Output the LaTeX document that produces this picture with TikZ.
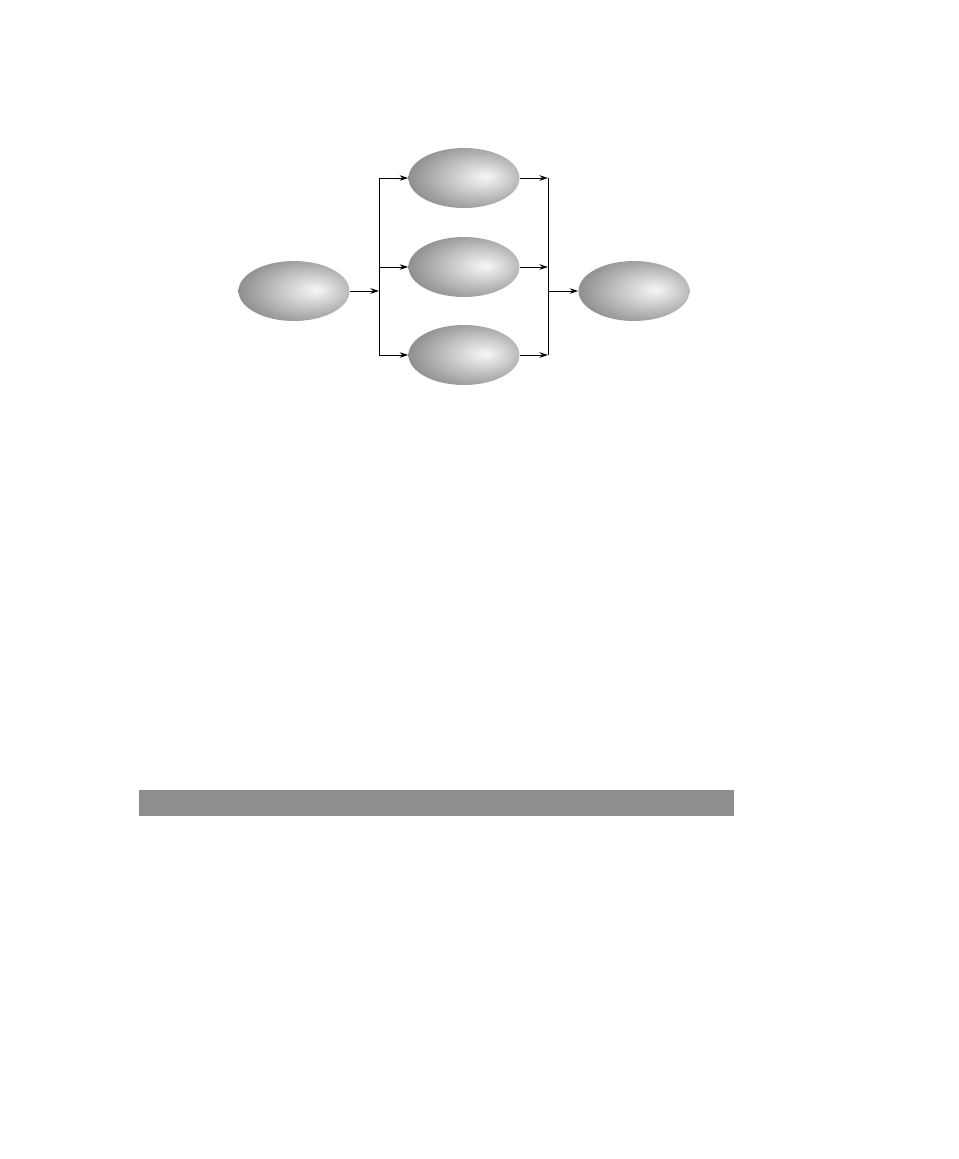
\documentclass[tikz,border=0pt]{standalone}
\usepackage{tikz}
\usetikzlibrary{positioning,shapes.geometric,arrows.meta}

\definecolor{shadehi}{gray}{0.97}
\definecolor{shadelo}{gray}{0.45}
\definecolor{barcol}{RGB}{143,141,142}
\pgfdeclareradialshading{blob}{\pgfpoint{10bp}{1bp}}{%
  color(0bp)=(shadehi); color(38bp)=(shadelo); color(60bp)=(shadelo)}

\begin{document}
\begin{tikzpicture}[
    x=0.02cm, y=-0.02cm,
    task/.style={ellipse, draw=none, shading=blob, minimum width=2.22cm, minimum height=1.2cm, inner sep=0pt},
    edge/.style={-{Stealth[length=1.7mm, width=1.1mm]}, line width=0.5pt},
    wire/.style={line width=0.5pt}
  ]
  \useasboundingbox (0,0) rectangle (959,1159);

  % Fork and join
  \node[task] (src) at (294,291) {};
  \node[task] (p1) at (464,178) {};
  \node[task] (p2) at (464,267) {};
  \node[task] (p3) at (464,355) {};
  \node[task] (sink) at (634,291) {};

  \coordinate (split) at (379,291);
  \coordinate (join) at (548,291);

  \draw[edge] (src.east) -- (split);
  \draw[wire] (split |- p1) -- (split |- p3);
  \draw[edge] (split |- p1) -- (p1.west);
  \draw[edge] (split |- p2) -- (p2.west);
  \draw[edge] (split |- p3) -- (p3.west);

  \draw[edge] (p1.east) -- (join |- p1);
  \draw[edge] (p2.east) -- (join |- p2);
  \draw[edge] (p3.east) -- (join |- p3);
  \draw[wire] (join |- p1) -- (join |- p3);
  \draw[edge] (join) -- (sink.west);

  % Bar
  \fill[barcol] (139,790) rectangle (734,816);
\end{tikzpicture}
\end{document}
